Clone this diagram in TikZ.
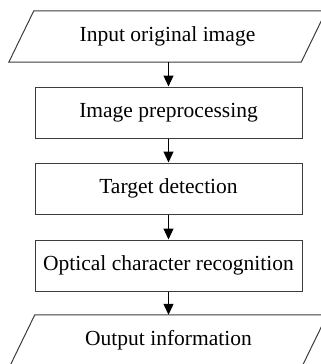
\documentclass[tikz,border=0pt]{standalone}
\usepackage{fontspec}
\setmainfont{Liberation Serif}
\usepackage{xcolor}
\usepackage{tikz}
\usetikzlibrary{positioning, arrows.meta}

\definecolor{edgegray}{HTML}{3C3C3C}
\tikzset{
    stepbox/.style={draw=edgegray, line width=1pt, rectangle, minimum width=267pt, minimum height=51pt, inner sep=0pt},
    iobox/.style={rectangle, minimum width=292pt, minimum height=51pt, inner sep=0pt},
    ioline/.style={draw=edgegray, line width=1pt, line join=miter},
    flow/.style={draw=black, line width=1.2pt, -{Triangle[length=11pt, width=10pt]}}
}

\begin{document}
\begin{tikzpicture}[x=1pt, y=1pt, font=\fontsize{21.5}{24}\selectfont]
\useasboundingbox (0,0) rectangle (321,-364);
\node[iobox]   (input) at (167.5,-36.5)  {Input original image};
\node[stepbox] (prep)  at (168.5,-112.5) {Image preprocessing};
\node[stepbox] (det)   at (168.5,-188.5) {Target detection};
\node[stepbox] (ocr)   at (168.5,-265.5) {Optical character recognition};
\node[iobox]   (output) at (168.5,-340.5) {Output information};
% slanted outline of the input/output boxes
\foreach \n in {input, output}
    \draw[ioline] ([xshift=-12.5pt]\n.south west) -- ([xshift=-12.5pt]\n.south east)
        -- ([xshift=12.5pt]\n.north east) -- ([xshift=12.5pt]\n.north west) -- cycle;
\foreach \a/\b in {input/prep, prep/det, det/ocr, ocr/output}
    \draw[flow] (\a.south -| prep.center) -- (\b.north -| prep.center);
\end{tikzpicture}
\end{document}
